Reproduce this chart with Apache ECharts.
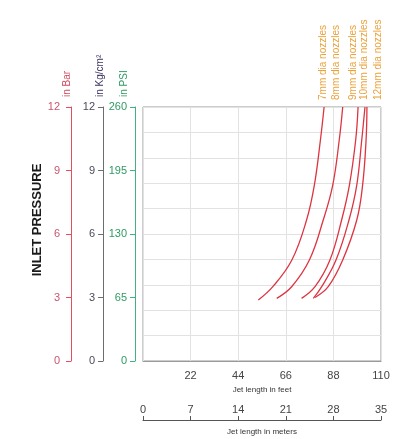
<!DOCTYPE html>
<html>
<head>
<meta charset="utf-8">
<script src="https://cdn.jsdelivr.net/npm/echarts@6/dist/echarts.min.js"></script>
<style>
html,body{margin:0;padding:0;background:#fff;}
#c{width:398px;height:439px;}
</style>
</head>
<body>
<div id="c"></div>
<script>
// ---- data ----
const seriesNames = ['7mm dia nozzles', '8mm dia nozzles', '9mm dia nozzles', '10mm dia nozzles', '12mm dia nozzles'];
const jetFeet7  = [53.3, 60.0, 68.8, 75.6, 79.2, 82.0, 83.7];
const jetFeet8  = [61.8, 68.7, 76.9, 83.3, 87.7, 90.7, 92.3];
const jetFeet9  = [73.3, 79.5, 86.4, 91.8, 95.4, 98.3, 99.4];
const jetFeet10 = [78.7, 82.6, 89.2, 95.2, 98.8, 101.1, 102.6];
const jetFeet12 = [79.5, 85.6, 92.3, 98.8, 101.5, 103.1, 103.5];
const pressureBar7  = [2.88, 3.51, 4.77, 6.66, 8.31, 10.44, 12];
const pressureBar8  = [2.96, 3.51, 4.77, 6.66, 8.31, 10.44, 12];
const pressureBar9  = [2.96, 3.51, 4.77, 6.66, 8.31, 10.44, 12];
const pressureBar10 = [2.96, 3.51, 4.77, 6.66, 8.31, 10.44, 12];
const pressureBar12 = [3.00, 3.51, 4.77, 6.66, 8.31, 10.44, 12];
const feetTicks = [0, 22, 44, 66, 88, 110];
const meterTicks = [0, 7, 14, 21, 28, 35];
const barTicks = [0, 3, 6, 9, 12];
const kgTicks = [0, 3, 6, 9, 12];
const psiTicks = [0, 65, 130, 195, 260];

const feetSets = [jetFeet7, jetFeet8, jetFeet9, jetFeet10, jetFeet12];
const barSets = [pressureBar7, pressureBar8, pressureBar9, pressureBar10, pressureBar12];
const labelShift = [-1, -6, -5, -1, 11];

const chart = echarts.init(document.getElementById('c'), null, {renderer: 'canvas'});
const FONT = 'Liberation Sans, Arial, sans-serif';

function yAx(opts) {
  return Object.assign({
    type: 'value', position: 'left',
    splitLine: {show: false}
  }, opts);
}

const option = {
  backgroundColor: '#ffffff',
  animation: false,
  grid: {left: 143, right: 17, top: 107, bottom: 78, containLabel: false, outerBoundsMode: 'none',
    show: true, borderColor: '#9a9a9a', borderWidth: 1, backgroundColor: 'transparent'},
  xAxis: [
    {
      type: 'value', position: 'bottom',
      min: feetTicks[0], max: feetTicks[feetTicks.length - 1], interval: feetTicks[1] - feetTicks[0],
      name: 'Jet length in feet', nameLocation: 'middle', nameGap: 25,
      nameTextStyle: {fontFamily: FONT, fontSize: 8, color: '#333'},
      axisLine: {show: true, onZero: false, lineStyle: {color: '#9a9a9a', width: 1}},
      axisTick: {show: false},
      axisLabel: {fontFamily: FONT, fontSize: 11, color: '#444', margin: 9,
        formatter: v => (v === 0 ? '' : String(v))},
      splitLine: {show: true, lineStyle: {color: '#e2e2e2', width: 1}}
    },
    {
      type: 'value', position: 'bottom', offset: 59,
      min: meterTicks[0], max: meterTicks[meterTicks.length - 1], interval: meterTicks[1] - meterTicks[0],
      name: 'Jet length in meters', nameLocation: 'middle', nameGap: 8,
      nameTextStyle: {fontFamily: FONT, fontSize: 8, color: '#333'},
      axisLine: {show: true, onZero: false, lineStyle: {color: '#555', width: 1}},
      axisTick: {show: true, inside: true, length: 4, lineStyle: {color: '#555'}},
      axisLabel: {inside: true, fontFamily: FONT, fontSize: 11, color: '#444', margin: 5},
      splitLine: {show: false}
    }
  ],
  yAxis: [
    yAx({min: barTicks[0], max: barTicks[barTicks.length - 1], interval: barTicks[1] - barTicks[0], offset: 72,
      axisLine: {show: true, onZero: false, lineStyle: {color: '#e0505e', width: 1}},
      axisTick: {show: true, length: 5, lineStyle: {color: '#e0505e'}},
      axisLabel: {fontFamily: FONT, fontSize: 11, color: '#c9566e', margin: 11}}),
    yAx({min: kgTicks[0], max: kgTicks[kgTicks.length - 1], interval: kgTicks[1] - kgTicks[0], offset: 40,
      axisLine: {show: true, onZero: false, lineStyle: {color: '#6d6d6d', width: 1}},
      axisTick: {show: true, length: 5, lineStyle: {color: '#6d6d6d'}},
      axisLabel: {fontFamily: FONT, fontSize: 11, color: '#4b4b58', margin: 8}}),
    yAx({min: psiTicks[0], max: psiTicks[psiTicks.length - 1], interval: psiTicks[1] - psiTicks[0], offset: 8,
      axisLine: {show: true, onZero: false, lineStyle: {color: '#3fb27e', width: 1}},
      axisTick: {show: true, length: 5, lineStyle: {color: '#3fb27e'}},
      axisLabel: {fontFamily: FONT, fontSize: 11, color: '#2f9a62', margin: 8}}),
    {
      type: 'value', position: 'right', min: 0, max: 10, interval: 1,
      axisLine: {show: false}, axisTick: {show: false}, axisLabel: {show: false},
      splitLine: {show: true, lineStyle: {color: '#e2e2e2', width: 1}}
    }
  ],
  series: seriesNames.map((name, i) => ({
    name: name,
    type: 'line',
    xAxisIndex: 0, yAxisIndex: 0,
    data: feetSets[i].map((x, j) => [x, barSets[i][j]]),
    smooth: 0.4,
    showSymbol: false,
    lineStyle: {color: '#dc3441', width: 1.3},
    z: 5
  }))
};

chart.setOption(option);

// text elements: axis titles and curve labels
const graphics = [
  {type: 'text', x: 37, y: 220, rotation: Math.PI / 2,
    style: {text: 'INLET PRESSURE', align: 'center', verticalAlign: 'middle', font: 'bold 13px ' + FONT, fill: '#1a1a1a'}},
  {type: 'text', x: 67, y: 97, rotation: Math.PI / 2,
    style: {text: 'in Bar', align: 'left', verticalAlign: 'middle', font: '10px ' + FONT, fill: '#d24a5c'}},
  {type: 'text', x: 100, y: 97, rotation: Math.PI / 2,
    style: {text: 'in Kg/cm²', align: 'left', verticalAlign: 'middle', font: '10px ' + FONT, fill: '#3b3160'}},
  {type: 'text', x: 124, y: 97, rotation: Math.PI / 2,
    style: {text: 'in PSI', align: 'left', verticalAlign: 'middle', font: '10px ' + FONT, fill: '#2f9a62'}}
];
seriesNames.forEach((name, i) => {
  const n = feetSets[i].length - 1;
  const p = chart.convertToPixel({seriesIndex: i}, [feetSets[i][n], barSets[i][n]]);
  graphics.push({type: 'text', x: p[0] + labelShift[i], y: p[1] - 7, rotation: Math.PI / 2,
    style: {text: name, align: 'left', verticalAlign: 'middle', font: '10px ' + FONT, fill: '#e9a23b'}});
});
chart.setOption({graphic: graphics});
</script>
</body>
</html>
